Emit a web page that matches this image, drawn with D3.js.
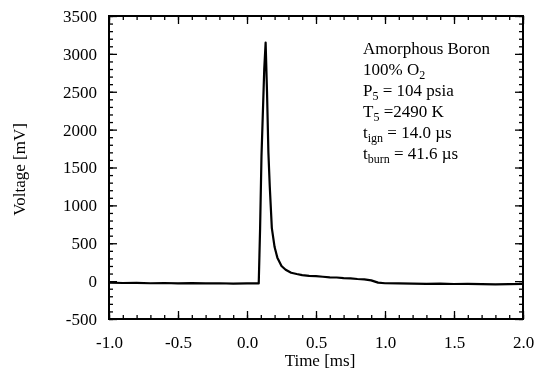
<!DOCTYPE html>
<html>
<head>
<meta charset="utf-8">
<script src="https://cdn.jsdelivr.net/npm/d3@7"></script>
<style>
  body { margin: 0; background: #fff; }
  svg { filter: grayscale(100%); }
  text { font-family: "Liberation Serif", "Times New Roman", serif; fill: #000; }
</style>
</head>
<body>
<div id="vis"></div>
<script>
// Trace (time in ms, voltage in mV)
const timeMs = [-1.0, -0.9, -0.8, -0.7, -0.6, -0.5, -0.4, -0.3, -0.2, -0.1, 0.0, 0.05, 0.085,
  0.095, 0.105, 0.125, 0.135, 0.145, 0.155, 0.165, 0.18, 0.2, 0.22, 0.25, 0.28, 0.32, 0.36,
  0.4, 0.45, 0.5, 0.55, 0.6, 0.65, 0.7, 0.75, 0.8, 0.85, 0.9, 0.95, 1.0, 1.1, 1.2, 1.3,
  1.4, 1.5, 1.6, 1.7, 1.8, 1.9, 2.0];
const voltageMv = [-20, -25, -22, -28, -25, -30, -27, -30, -28, -32, -30, -30, -30,
  700, 1650, 2800, 3150, 2500, 1700, 1250, 700, 450, 310, 200, 150, 110, 94,
  80, 70, 65, 58, 50, 48, 40, 37, 28, 22, 10, -20, -28, -30, -32, -35,
  -33, -38, -35, -40, -42, -40, -38];

const xTicks = [-1.0, -0.5, 0.0, 0.5, 1.0, 1.5, 2.0];
const yTicks = [-500, 0, 500, 1000, 1500, 2000, 2500, 3000, 3500];

const noteLines = [
  [["Amorphous Boron", false]],
  [["100% O", false], ["2", true]],
  [["P", false], ["5", true], [" = 104 psia", false]],
  [["T", false], ["5", true], [" =2490 K", false]],
  [["t", false], ["ign", true], [" = 14.0 \u00b5s", false]],
  [["t", false], ["burn", true], [" = 41.6 \u00b5s", false]]
];

const width = 536, height = 386;
const margin = { top: 16, right: 13, bottom: 67, left: 109 };

const svg = d3.select("#vis").append("svg")
  .attr("width", width)
  .attr("height", height);

const x = d3.scaleLinear().domain([-1, 2]).range([margin.left, width - margin.right]);
const y = d3.scaleLinear().domain([-500, 3500]).range([height - margin.bottom, margin.top]);

const xMinor = d3.range(-1, 2.0001, 0.1).map(v => Math.round(v * 10) / 10);
const yMinor = d3.range(-500, 3501, 100);

// plain hyphen for negatives, like the original
const fmtX = d => d3.format(".1f")(d).replace("\u2212", "-");
const fmtY = d => d3.format("d")(d).replace("\u2212", "-");

function styleAxis(g) {
  g.select(".domain").remove();
  g.selectAll("line").attr("stroke", "#000").attr("stroke-width", 1.3);
  g.selectAll("text").attr("fill", "#000").style("font-size", "17px");
}

// minor ticks, all four sides, pointing inward
svg.append("g").attr("transform", `translate(0,${y(-500)})`)
  .call(d3.axisBottom(x).tickValues(xMinor).tickSize(-4).tickFormat("")).call(styleAxis);
svg.append("g").attr("transform", `translate(0,${y(3500)})`)
  .call(d3.axisTop(x).tickValues(xMinor).tickSize(-4).tickFormat("")).call(styleAxis);
svg.append("g").attr("transform", `translate(${x(-1)},0)`)
  .call(d3.axisLeft(y).tickValues(yMinor).tickSize(-4).tickFormat("")).call(styleAxis);
svg.append("g").attr("transform", `translate(${x(2)},0)`)
  .call(d3.axisRight(y).tickValues(yMinor).tickSize(-4).tickFormat("")).call(styleAxis);

// major ticks with labels
svg.append("g").attr("transform", `translate(0,${y(-500)})`)
  .call(d3.axisBottom(x).tickValues(xTicks).tickSize(-8).tickPadding(17).tickFormat(fmtX))
  .call(styleAxis);
svg.append("g").attr("transform", `translate(0,${y(3500)})`)
  .call(d3.axisTop(x).tickValues(xTicks).tickSize(-8).tickFormat("")).call(styleAxis);
svg.append("g").attr("transform", `translate(${x(-1)},0)`)
  .call(d3.axisLeft(y).tickValues(yTicks).tickSize(-8).tickPadding(12).tickFormat(fmtY))
  .call(styleAxis);
svg.append("g").attr("transform", `translate(${x(2)},0)`)
  .call(d3.axisRight(y).tickValues(yTicks).tickSize(-8).tickFormat("")).call(styleAxis);

// frame
svg.append("rect")
  .attr("x", x(-1)).attr("y", y(3500))
  .attr("width", x(2) - x(-1)).attr("height", y(-500) - y(3500))
  .attr("fill", "none").attr("stroke", "#000").attr("stroke-width", 2);

// trace
const pts = timeMs.map((t, i) => [t, voltageMv[i]]);
svg.append("path")
  .datum(pts)
  .attr("fill", "none")
  .attr("stroke", "#000")
  .attr("stroke-width", 2.2)
  .attr("stroke-linejoin", "round")
  .attr("d", d3.line().x(d => x(d[0])).y(d => y(d[1])));

// axis titles
svg.append("text")
  .attr("x", (x(-1) + x(2)) / 2 + 4)
  .attr("y", 366)
  .attr("text-anchor", "middle")
  .attr("fill", "#000")
  .style("font-size", "17px")
  .text("Time [ms]");

svg.append("text")
  .attr("transform", `translate(25,${(y(-500) + y(3500)) / 2 + 2}) rotate(-90)`)
  .attr("text-anchor", "middle")
  .attr("fill", "#000")
  .style("font-size", "17px")
  .text("Voltage [mV]");

// annotation block
const note = svg.append("g").attr("transform", "translate(363,0)");
noteLines.forEach((parts, i) => {
  const t = note.append("text")
    .attr("x", 0)
    .attr("y", 54 + i * 21)
    .attr("fill", "#000")
    .style("font-size", "17px");
  parts.forEach(([str, sub], j) => {
    const s = t.append("tspan").text(str);
    if (sub) s.attr("dy", 4).style("font-size", "12px");
    else if (j > 0) s.attr("dy", -4);
  });
});
</script>
</body>
</html>
